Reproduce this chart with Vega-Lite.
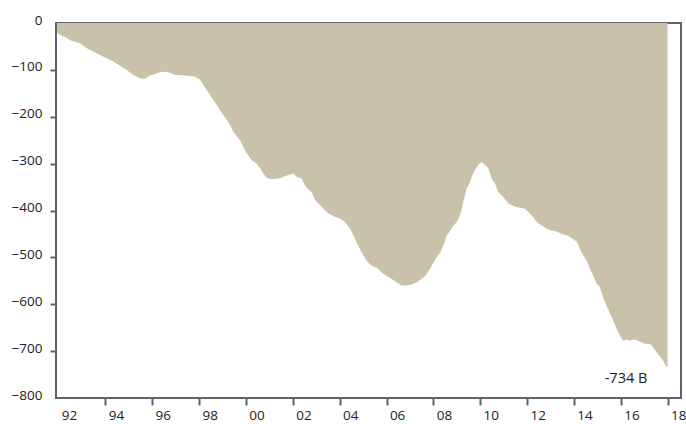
{
  "$schema": "https://vega.github.io/schema/vega-lite/v6.json",
  "width": 625,
  "height": 375,
  "autosize": {"type": "none"},
  "padding": {"left": 56, "top": 23, "right": 5, "bottom": 26},
  "config": {
    "view": {"stroke": "#5c6470", "strokeWidth": 2},
    "font": "Open Sans",
    "axis": {"domain": false, "grid": false, "labelFont": "Open Sans", "labelFontSize": 13.5, "labelColor": "#222222", "tickColor": "#5c6470", "tickWidth": 2, "title": null}
  },
  "data": {"values": [
    {"t": 1991.93, "v": -21}, {"t": 1992.06, "v": -25}, {"t": 1992.27, "v": -30}, {"t": 1992.49, "v": -37},
    {"t": 1992.91, "v": -43}, {"t": 1993.20, "v": -54}, {"t": 1993.48, "v": -61}, {"t": 1993.77, "v": -68},
    {"t": 1994.05, "v": -75}, {"t": 1994.34, "v": -82}, {"t": 1994.62, "v": -91}, {"t": 1994.91, "v": -100},
    {"t": 1995.19, "v": -111}, {"t": 1995.48, "v": -118}, {"t": 1995.69, "v": -119}, {"t": 1995.90, "v": -112},
    {"t": 1996.12, "v": -109}, {"t": 1996.33, "v": -105}, {"t": 1996.54, "v": -104}, {"t": 1996.76, "v": -106},
    {"t": 1996.97, "v": -111}, {"t": 1997.18, "v": -111}, {"t": 1997.40, "v": -112}, {"t": 1997.61, "v": -113},
    {"t": 1997.82, "v": -114}, {"t": 1998.04, "v": -121}, {"t": 1998.18, "v": -132}, {"t": 1998.32, "v": -143},
    {"t": 1998.46, "v": -153}, {"t": 1998.60, "v": -164}, {"t": 1998.75, "v": -175}, {"t": 1998.89, "v": -186},
    {"t": 1999.03, "v": -196}, {"t": 1999.18, "v": -207}, {"t": 1999.32, "v": -218}, {"t": 1999.46, "v": -232},
    {"t": 1999.60, "v": -241}, {"t": 1999.74, "v": -250}, {"t": 1999.96, "v": -272}, {"t": 2000.24, "v": -293},
    {"t": 2000.46, "v": -300}, {"t": 2000.60, "v": -310}, {"t": 2000.74, "v": -321}, {"t": 2000.88, "v": -330},
    {"t": 2001.02, "v": -333}, {"t": 2001.24, "v": -333}, {"t": 2001.45, "v": -331}, {"t": 2001.66, "v": -327},
    {"t": 2001.88, "v": -323}, {"t": 2002.02, "v": -321}, {"t": 2002.16, "v": -328}, {"t": 2002.38, "v": -332},
    {"t": 2002.52, "v": -346}, {"t": 2002.66, "v": -355}, {"t": 2002.80, "v": -361}, {"t": 2002.94, "v": -377},
    {"t": 2003.09, "v": -385}, {"t": 2003.30, "v": -396}, {"t": 2003.51, "v": -406}, {"t": 2003.80, "v": -414},
    {"t": 2004.01, "v": -417}, {"t": 2004.22, "v": -425}, {"t": 2004.44, "v": -439}, {"t": 2004.58, "v": -453},
    {"t": 2004.72, "v": -468}, {"t": 2004.86, "v": -482}, {"t": 2005.01, "v": -496}, {"t": 2005.15, "v": -507},
    {"t": 2005.36, "v": -518}, {"t": 2005.58, "v": -522}, {"t": 2005.79, "v": -532}, {"t": 2006.00, "v": -539},
    {"t": 2006.22, "v": -546}, {"t": 2006.43, "v": -553}, {"t": 2006.64, "v": -560}, {"t": 2006.86, "v": -560},
    {"t": 2007.07, "v": -558}, {"t": 2007.29, "v": -553}, {"t": 2007.43, "v": -548}, {"t": 2007.64, "v": -540},
    {"t": 2007.85, "v": -525}, {"t": 2008.07, "v": -505}, {"t": 2008.28, "v": -490}, {"t": 2008.42, "v": -475},
    {"t": 2008.57, "v": -453}, {"t": 2008.71, "v": -443}, {"t": 2008.85, "v": -432}, {"t": 2008.99, "v": -425},
    {"t": 2009.13, "v": -410}, {"t": 2009.21, "v": -396}, {"t": 2009.27, "v": -382}, {"t": 2009.35, "v": -368},
    {"t": 2009.42, "v": -353}, {"t": 2009.56, "v": -339}, {"t": 2009.63, "v": -328}, {"t": 2009.77, "v": -314},
    {"t": 2009.91, "v": -303}, {"t": 2010.06, "v": -296}, {"t": 2010.20, "v": -303}, {"t": 2010.34, "v": -310},
    {"t": 2010.49, "v": -332}, {"t": 2010.63, "v": -343}, {"t": 2010.77, "v": -361}, {"t": 2010.98, "v": -371},
    {"t": 2011.19, "v": -385}, {"t": 2011.48, "v": -392}, {"t": 2011.69, "v": -394}, {"t": 2011.91, "v": -396},
    {"t": 2012.19, "v": -410}, {"t": 2012.41, "v": -425}, {"t": 2012.62, "v": -432}, {"t": 2012.83, "v": -439},
    {"t": 2013.05, "v": -443}, {"t": 2013.26, "v": -445}, {"t": 2013.47, "v": -450}, {"t": 2013.69, "v": -453},
    {"t": 2013.90, "v": -459}, {"t": 2014.11, "v": -466}, {"t": 2014.25, "v": -482}, {"t": 2014.40, "v": -496},
    {"t": 2014.54, "v": -507}, {"t": 2014.68, "v": -525}, {"t": 2014.82, "v": -539}, {"t": 2014.97, "v": -557},
    {"t": 2015.07, "v": -560}, {"t": 2015.32, "v": -595}, {"t": 2015.54, "v": -620}, {"t": 2015.68, "v": -635},
    {"t": 2015.82, "v": -653}, {"t": 2015.96, "v": -667}, {"t": 2016.10, "v": -678}, {"t": 2016.25, "v": -675},
    {"t": 2016.39, "v": -678}, {"t": 2016.53, "v": -675}, {"t": 2016.68, "v": -677}, {"t": 2016.82, "v": -680},
    {"t": 2017.03, "v": -684}, {"t": 2017.25, "v": -685}, {"t": 2017.38, "v": -692}, {"t": 2017.53, "v": -703},
    {"t": 2017.67, "v": -712}, {"t": 2017.81, "v": -721}, {"t": 2017.95, "v": -734}, {"t": 2017.99, "v": -734}
  ]},
  "layer": [
    {
      "mark": {"type": "area", "color": "#c9c1aa", "clip": true, "interpolate": "linear"},
      "encoding": {
        "x": {"field": "t", "type": "quantitative",
          "scale": {"domain": [1991.89, 2018.565], "nice": false, "zero": false},
          "axis": {
            "values": [1992,1993,1994,1995,1996,1997,1998,1999,2000,2001,2002,2003,2004,2005,2006,2007,2008,2009,2010,2011,2012,2013,2014,2015,2016,2017,2018],
            "tickSize": 7, "labelPadding": 3.5, "labelOffset": 10.5,
            "labelFlush": false, "labelOverlap": false,
            "tickOpacity": {"expr": "datum.value == 1992 ? 0 : 1"},
            "labelExpr": "datum.value % 2 == 0 ? substring(toString(datum.value), 2, 4) : ''"
          }
        },
        "y": {"field": "v", "type": "quantitative",
          "scale": {"domain": [-800, 0], "nice": false},
          "axis": {
            "values": [0, -100, -200, -300, -400, -500, -600, -700, -800],
            "tickSize": 6, "labelPadding": 8, "labelOffset": -3,
            "labelFlush": false, "labelOverlap": false,
            "tickOpacity": {"expr": "datum.value == 0 || datum.value == -800 ? 0 : 1"}
          }
        }
      }
    },
    {
      "data": {"values": [{"label": "-734 B"}]},
      "mark": {"type": "text", "align": "right", "baseline": "middle", "font": "Open Sans", "fontSize": 14.5, "color": "#222222"},
      "encoding": {
        "x": {"datum": 2017.13, "type": "quantitative"},
        "y": {"datum": -760, "type": "quantitative"},
        "text": {"field": "label"}
      }
    }
  ]
}
